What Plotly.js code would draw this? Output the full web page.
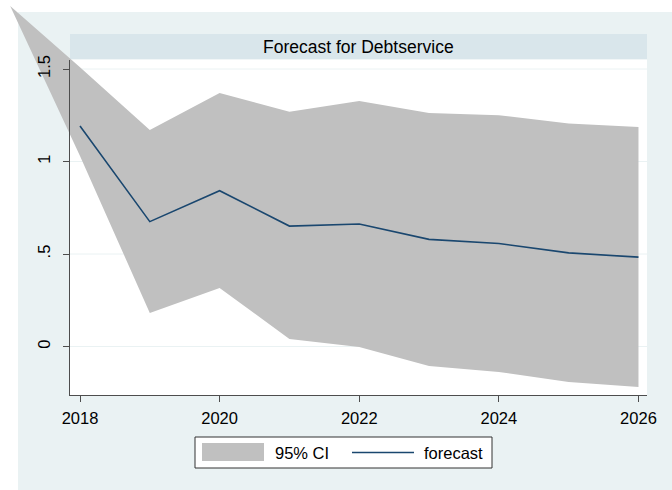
<!DOCTYPE html>
<html><head><meta charset="utf-8">
<script src="https://cdn.plot.ly/plotly-3.0.1.min.js"></script>
<style>html,body{margin:0;padding:0;background:#fff}#chart{width:672px;height:490px}</style>
</head><body><div id="chart"></div>
<script>
// ---- data ----
const ciYears = [2017, 2018, 2019, 2020, 2021, 2022, 2023, 2024, 2025, 2026];
const ciUpper = [1.84, 1.51, 1.170, 1.370, 1.269, 1.327, 1.262, 1.250, 1.205, 1.186];
const ciLower = [1.84, 1.03, 0.181, 0.316, 0.041, -0.003, -0.105, -0.138, -0.192, -0.219];
const fcYears = [2018, 2019, 2020, 2021, 2022, 2023, 2024, 2025, 2026];
const forecast = [1.192, 0.675, 0.842, 0.651, 0.662, 0.579, 0.557, 0.506, 0.483];
const xTickVals = [2018, 2020, 2022, 2024, 2026];
const xTickText = ['2018', '2020', '2022', '2024', '2026'];
const yTickVals = [0, 0.5, 1, 1.5];
const yTickText = ['0', '.5', '1', '1.5'];
const titleText = 'Forecast for Debtservice';
const legendLabels = ['95% CI', 'forecast'];

// ---- layout geometry (pixels) ----
const W = 672, H = 490;
const PX_YEAR = 69.81, X_REF_PIX = 80;      // 2018 at x=80
const PX_UNIT = 185, Y_ZERO_PIX = 346.5;     // 0 at y=346.5
const xAt = px => 2018 + (px - X_REF_PIX) / PX_YEAR;
const yAt = py => (Y_ZERO_PIX - py) / PX_UNIT;
const PL = 70, PR = 647, PT = 59.5, PB = 395;
const fx = px => px / W, fy = py => (H - py) / H;

const bandColor = 'rgb(192,192,192)';
const lineColor = '#1a476f';
const axisColor = '#4d4d4d';
const gridColor = '#eaf2f3';
const font = {family: 'Liberation Sans, Arial, sans-serif', size: 16.5, color: '#000'};

const band = {
  type: 'scatter', mode: 'lines',
  x: ciYears.concat(ciYears.slice().reverse()),
  y: ciUpper.concat(ciLower.slice().reverse()),
  fill: 'toself', fillcolor: bandColor, line: {width: 0, color: bandColor},
  xaxis: 'x', yaxis: 'y', showlegend: false, hoverinfo: 'skip', name: legendLabels[0]
};
const fc = {
  type: 'scatter', mode: 'lines', x: fcYears, y: forecast,
  line: {color: lineColor, width: 1.6},
  xaxis: 'x2', yaxis: 'y2', showlegend: false, name: legendLabels[1]
};

const shapes = [
  {type: 'rect', xref: 'paper', yref: 'paper', x0: fx(18), x1: 1, y0: 0, y1: fy(12),
   fillcolor: '#eaf2f3', line: {width: 0}, layer: 'below'},
  {type: 'rect', xref: 'paper', yref: 'paper', x0: fx(PL), x1: fx(PR), y0: fy(59.5), y1: fy(34),
   fillcolor: '#d9e6eb', line: {width: 0}, layer: 'below'},
  {type: 'rect', xref: 'paper', yref: 'paper', x0: fx(PL), x1: fx(PR), y0: fy(PB), y1: fy(PT),
   fillcolor: '#ffffff', line: {width: 0}, layer: 'below'}
];
yTickVals.forEach(v => shapes.push({type: 'line', xref: 'paper', yref: 'y2', x0: fx(PL), x1: fx(PR),
  y0: v, y1: v, line: {color: gridColor, width: 1}, layer: 'below'}));
// legend box
shapes.push({type: 'rect', xref: 'paper', yref: 'paper', x0: fx(195), x1: fx(492), y0: fy(468), y1: fy(437),
  fillcolor: '#fff', line: {color: '#333', width: 1}, layer: 'above'});
shapes.push({type: 'rect', xref: 'paper', yref: 'paper', x0: fx(202), x1: fx(264), y0: fy(461), y1: fy(443),
  fillcolor: bandColor, line: {width: 0}, layer: 'above'});
shapes.push({type: 'line', xref: 'paper', yref: 'paper', x0: fx(352), x1: fx(414), y0: fy(452.5), y1: fy(452.5),
  line: {color: lineColor, width: 1.5}, layer: 'above'});

const annotations = [
  {xref: 'paper', yref: 'paper', x: fx((PL + PR) / 2), y: fy(46.5), text: titleText, showarrow: false,
   xanchor: 'center', yanchor: 'middle', font: {family: font.family, size: 17.5, color: '#000'}},
  {xref: 'paper', yref: 'paper', x: fx(273), y: fy(452.5), text: legendLabels[0], showarrow: false,
   xanchor: 'left', yanchor: 'middle', font: font},
  {xref: 'paper', yref: 'paper', x: fx(422), y: fy(452.5), text: legendLabels[1], showarrow: false,
   xanchor: 'left', yanchor: 'middle', font: font}
];

const layout = {
  width: W, height: H, margin: {l: 0, r: 0, t: 0, b: 0, pad: 0},
  paper_bgcolor: '#ffffff', plot_bgcolor: 'rgba(0,0,0,0)',
  showlegend: false, font: font,
  xaxis: {domain: [0, 1], range: [xAt(0), xAt(W)], visible: false, fixedrange: true},
  yaxis: {domain: [0, 1], range: [yAt(H), yAt(0)], visible: false, fixedrange: true},
  xaxis2: {domain: [fx(PL), fx(PR)], range: [xAt(PL), xAt(PR)], anchor: 'y2',
    showline: true, linecolor: axisColor, linewidth: 1, ticks: 'outside', ticklen: 6,
    tickcolor: axisColor, tickwidth: 1, tickvals: xTickVals, ticktext: xTickText,
    showgrid: false, zeroline: false, tickfont: font, ticklabelstandoff: 2},
  yaxis2: {domain: [fy(PB), fy(PT)], range: [yAt(PB), yAt(PT)], anchor: 'x2',
    showline: true, linecolor: axisColor, linewidth: 1, ticks: 'outside', ticklen: 6,
    tickcolor: axisColor, tickwidth: 1, tickvals: yTickVals, ticktext: yTickText,
    tickangle: -90, showgrid: false, zeroline: false, tickfont: font, ticklabelstandoff: 6},
  shapes: shapes, annotations: annotations
};

Plotly.newPlot('chart', [band, fc], layout, {displayModeBar: false, staticPlot: true});
</script>
</body></html>
